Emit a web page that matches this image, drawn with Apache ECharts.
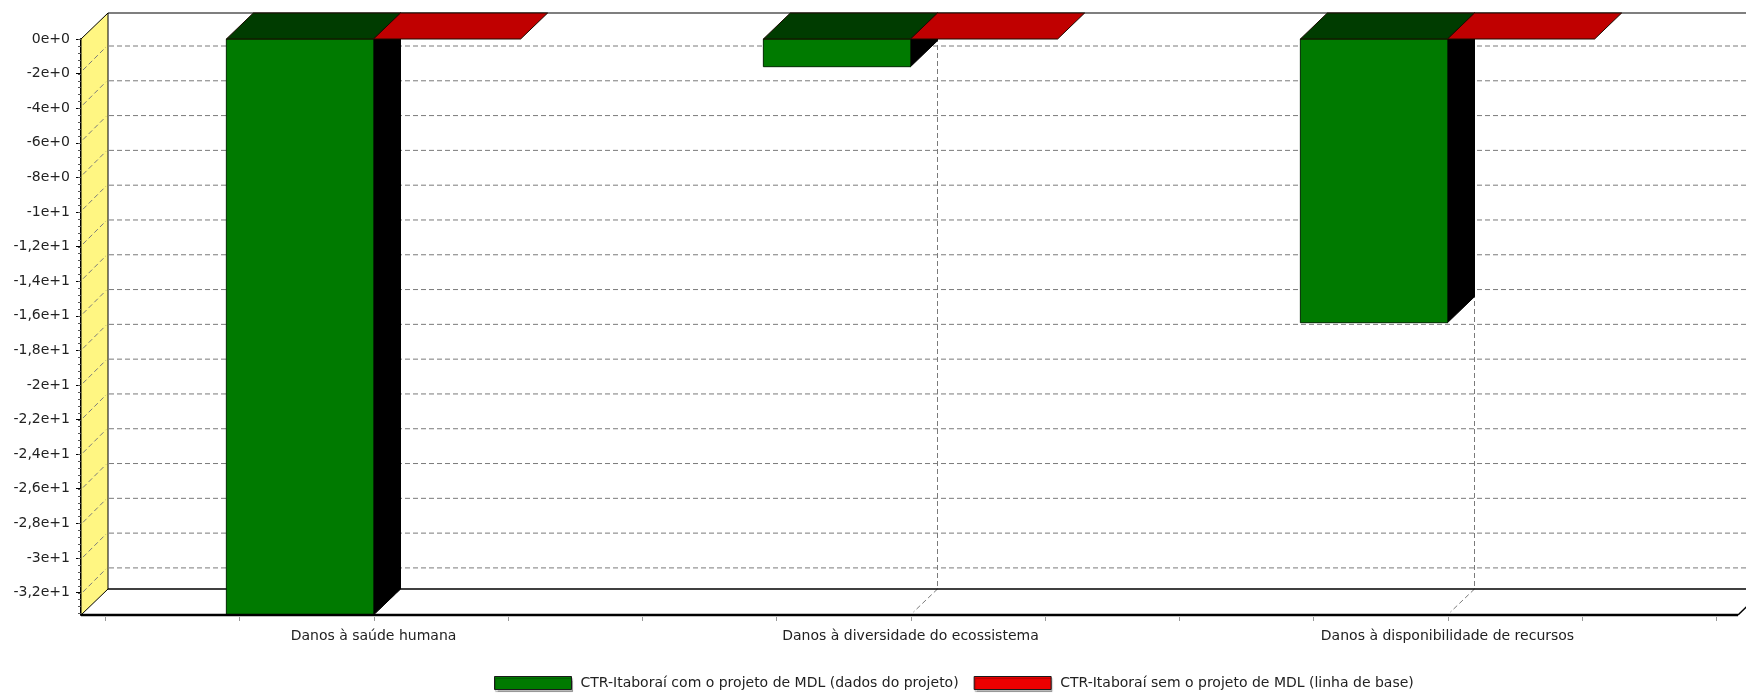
<!DOCTYPE html>
<html>
<head>
    <meta charset="utf-8">
    <title>Danos - CTR-Itaboraí</title>
    <script src="https://cdn.jsdelivr.net/npm/echarts@6/dist/echarts.min.js"></script>
    <style>html,body{margin:0;padding:0;background:#fff;}</style>
</head>
<body>
<div id="main" style="width:1746px;height:694px;"></div>
<script type="text/javascript">
    var categories = ['Danos à saúde humana', 'Danos à diversidade do ecossistema', 'Danos à disponibilidade de recursos'];
    var seriesNames = ['CTR-Itaboraí com o projeto de MDL (dados do projeto)', 'CTR-Itaboraí sem o projeto de MDL (linha de base)'];
    var comProjeto = [-33.3, -1.6, -16.4];
    var semProjeto = [0, 0, 0];
    var yTickValues = [0, -2, -4, -6, -8, -10, -12, -14, -16, -18, -20, -22, -24, -26, -28, -30, -32];
    var yTickLabels = ['0e+0', '-2e+0', '-4e+0', '-6e+0', '-8e+0', '-1e+1', '-1,2e+1', '-1,4e+1', '-1,6e+1',
        '-1,8e+1', '-2e+1', '-2,2e+1', '-2,4e+1', '-2,6e+1', '-2,8e+1', '-3e+1', '-3,2e+1'];
    var yMin = -33.3;

    var FONT = 'DejaVu Sans';
    var DX = 27, DY = 26;        // profundidade do efeito 3D
    var PAD_L = 24, PAD_R = 22;  // borda frontal alem da area das categorias
    var BAR_FRAC = 0.274;

    var myChart = echarts.init(document.getElementById('main'));

    function dashed(x1, y1, x2, y2) {
        return {
            type: 'line', shape: {x1: x1, y1: y1, x2: x2, y2: y2},
            style: {stroke: '#7a7a7a', lineWidth: 1, lineDash: [5, 3]}
        };
    }
    function solid(x1, y1, x2, y2, w, c) {
        return {
            type: 'line', shape: {x1: x1, y1: y1, x2: x2, y2: y2},
            style: {stroke: c || '#000', lineWidth: w || 1}
        };
    }

    // paredes, piso e grade
    function renderFrame(params, api) {
        var cs = params.coordSys;
        var L = cs.x, R = cs.x + cs.width, T = cs.y, B = cs.y + cs.height;
        var fl = L - PAD_L, fr = R + PAD_R;
        var bl = fl + DX, br = fr + DX, bt = T - DY, bb = B - DY;
        var ch = [];
        ch.push({type: 'polygon', shape: {points: [[fl, T], [bl, bt], [bl, bb], [fl, B]]},
            style: {fill: '#fff682', stroke: '#000', lineWidth: 1}});
        for (var i = 0; i < yTickValues.length; i++) {
            var v = yTickValues[i];
            var gy = api.coord([0, v])[1] + 7 + 0.1 * Math.abs(v);
            if (gy >= bb - 2) continue;
            ch.push(dashed(bl + 1, gy, br, gy));
            ch.push(dashed(fl + 2, gy + DY - 2, bl - 2, gy + 1));
        }
        for (var c = 0; c < categories.length; c++) {
            var x = api.coord([c, 0])[0] + DX;
            ch.push(dashed(x, bt, x, bb));
            ch.push(dashed(x, bb, x - DX + 3, B - 3));
        }
        ch.push(solid(bl, bt, br, bt, 1.2));
        ch.push(solid(bl, bb, br, bb, 1.5));
        ch.push(solid(fr, B, br, bb, 1.5));
        // marcas do eixo x
        for (var k = 0; k <= 12; k++) {
            var tx = Math.round(L + k * cs.width / 12) + 0.5;
            ch.push(solid(tx, B + 2, tx, B + 6, 1, '#999'));
        }
        // marcas menores do eixo y
        for (var m = 0; m > yMin; m -= 0.4) {
            var my = Math.round(api.coord([0, m])[1]) + 0.5;
            ch.push(solid(fl - 3, my, fl, my, 1, '#555'));
        }
        return {type: 'group', children: ch};
    }

    function renderFront(params, api) {
        var cs = params.coordSys;
        var B = cs.y + cs.height;
        return {type: 'group', children: [solid(cs.x - PAD_L, B, cs.x + cs.width + PAD_R, B, 2.5)]};
    }

    function makeBar(side, frontColor, topColor, sideColor) {
        return function (params, api) {
            var i = api.value(0), v = api.value(1);
            var p0 = api.coord([i, 0]), p1 = api.coord([i, v]);
            var bw = api.size([1, 0])[0] * BAR_FRAC;
            var x0 = side < 0 ? p0[0] - bw : p0[0];
            var x1 = x0 + bw;
            var yt = p0[1], yb = p1[1];
            var ch = [];
            if (yb - yt > 0.5) {
                ch.push({type: 'polygon', shape: {points: [[x1, yt], [x1 + DX, yt - DY], [x1 + DX, yb - DY], [x1, yb]]},
                    style: {fill: sideColor, stroke: '#000', lineWidth: 1}});
                ch.push({type: 'rect', shape: {x: x0, y: yt, width: bw, height: yb - yt},
                    style: {fill: frontColor, stroke: '#002a00', lineWidth: 1}});
            }
            ch.push({type: 'polygon', shape: {points: [[x0, yt], [x1, yt], [x1 + DX, yt - DY], [x0 + DX, yt - DY]]},
                style: {fill: topColor, stroke: '#1a0a00', lineWidth: 1}});
            return {type: 'group', children: ch};
        };
    }

    function pairs(arr) {
        var out = [];
        for (var i = 0; i < arr.length; i++) out.push([i, arr[i]]);
        return out;
    }

    var option = {
        animation: false,
        backgroundColor: '#fff',
        grid: {left: 105, right: 30, top: 39, bottom: 79},
        legend: {
            left: 494, top: 676, padding: 0,
            icon: 'rect', itemWidth: 77, itemHeight: 13, itemGap: 15,
            itemStyle: {borderColor: '#1a1a1a', borderWidth: 1, shadowColor: 'rgba(0,0,0,0.25)', shadowBlur: 1, shadowOffsetX: 1, shadowOffsetY: 2},
            textStyle: {fontFamily: FONT, fontSize: 14, color: '#222', padding: [0, 0, 0, 4]},
            data: [
                {name: seriesNames[0], itemStyle: {color: '#007a00'}},
                {name: seriesNames[1], itemStyle: {color: '#ec0000'}}
            ]
        },
        xAxis: {
            type: 'category',
            data: categories,
            axisLine: {show: false},
            axisTick: {show: false},
            axisLabel: {fontFamily: FONT, fontSize: 14, color: '#222', margin: 14},
            splitLine: {show: false}
        },
        yAxis: {
            type: 'value',
            min: yMin, max: 0,
            offset: PAD_L,
            axisLine: {show: true, lineStyle: {color: '#000', width: 2}},
            axisTick: {show: true, length: 5, customValues: yTickValues, lineStyle: {color: '#000'}},
            axisLabel: {
                customValues: yTickValues, margin: 11,
                fontFamily: FONT, fontSize: 14, color: '#222',
                formatter: function (val) {
                    var idx = yTickValues.indexOf(Math.round(val));
                    return idx >= 0 ? yTickLabels[idx] : '';
                }
            },
            splitLine: {show: false}
        },
        series: [
            {
                name: 'frame', type: 'custom', silent: true, z: 1,
                renderItem: renderFrame, data: [[0, 0]]
            },
            {
                name: seriesNames[0], type: 'custom', z: 2,
                itemStyle: {color: '#007a00'},
                renderItem: makeBar(-1, '#007a00', '#003c00', '#000000'),
                data: pairs(comProjeto)
            },
            {
                name: seriesNames[1], type: 'custom', z: 3,
                itemStyle: {color: '#ec0000'},
                renderItem: makeBar(1, '#c00000', '#c00000', '#000000'),
                data: pairs(semProjeto)
            },
            {
                name: 'front', type: 'custom', silent: true, z: 4,
                renderItem: renderFront, data: [[0, 0]]
            }
        ]
    };

    myChart.setOption(option);
</script>
</body>
</html>
